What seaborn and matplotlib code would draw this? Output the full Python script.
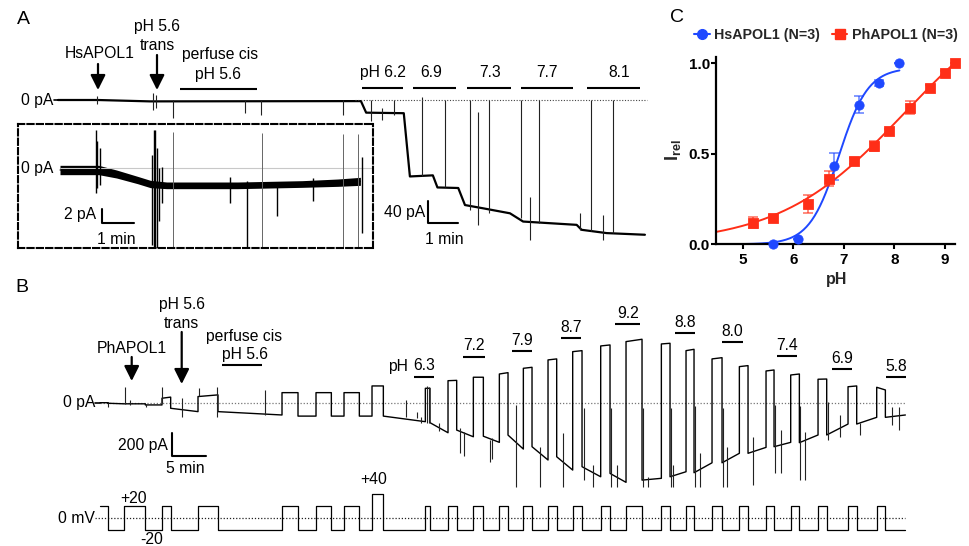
import numpy as np
import matplotlib
matplotlib.use("Agg")
import matplotlib.pyplot as plt
import seaborn as sns
from matplotlib.lines import Line2D

sns.set_style("white")
plt.rcParams["font.family"] = ["Liberation Sans", "DejaVu Sans"]
plt.rcParams["mathtext.fontset"] = "custom"
plt.rcParams["mathtext.rm"] = "Liberation Sans"
plt.rcParams["mathtext.bf"] = "Liberation Sans:bold"

# ======================= DATA =======================
# ---- Panel A : HsAPOL1 bilayer current (main trace), time in min, current in pA
a_time_min = [0, 1.3, 3.0, 9.9, 10.07, 11.3, 11.5, 12.25, 12.4, 13.08, 13.3, 13.9,
              14.77, 15.2, 16.95, 17.11, 17.93, 19.18]
a_current_pA = [0, 0, -2.5, -2, -23, -24, -139, -137, -159, -160, -191, -197,
                -206, -221, -227, -236, -242, -245]
a_spike_t = [1.27, 3.1, 3.2, 3.76, 6.11, 6.63, 9.31, 10.22, 10.58, 10.99, 11.88, 12.65,
             13.46, 13.74, 14.1, 15.12, 15.42, 15.72, 17.06, 17.41, 17.82, 18.13]
a_spike_lo = [-7, -18, -15, -33, -24, -27, -27, -39, -36, -27, -138, -158,
              -200, -227, -205, -215, -255, -224, -236, -239, -255, -242]
a_spike_hi = [7, 13, 10, 0, 0, 0, 0, 0, -15, 0, 6, 0,
              0, -21, 0, 0, -176, 0, -205, 0, -209, 0]
a_ph_labels = ["pH 6.2", "6.9", "7.3", "7.7", "8.1"]

# ---- Panel A inset (magnified first 10 min)
inset_time_min = [0, 1.2, 1.75, 2.4, 2.8, 3.3, 5.5, 7.5, 8.6, 9.3]
inset_current_pA = [-0.3, -0.3, -0.9, -1.8, -2.4, -2.6, -2.6, -2.4, -2.2, -2.0]
inset_noise_pA = [0.7, 0.7, 0.6, 0.55, 0.55, 0.5, 0.5, 0.5, 0.55, 0.6]
inset_spike_t = [1.1, 1.15, 1.25, 2.85, 2.9, 2.95, 3.0, 3.05, 3.15, 5.26, 5.78, 6.71, 7.84, 9.34]
inset_spike_lo = [-3.7, -3.0, -2.5, -11.5, -12, -12, -12, -8, -5.2, -5.3, -12, -7.2, -5, -9.8]
inset_spike_hi = [5.7, 4.0, 3.0, 2.0, 5.7, 5.7, 3.0, 0, 0.2, -1.3, -2, -2.5, -1.5, 1.7]
inset_thin_t = [3.51, 6.24, 8.77, 9.24]
inset_thin_lo = [-12, -12, -12, -12]
inset_thin_hi = [5.4, 5.2, 5.1, 5.1]

# ---- Panel B : PhAPOL1, voltage protocol and current
b_edges_min = [0, 1.2, 3.6, 6.8, 9.3, 10.6, 14.7, 17.7, 27.3, 29.7, 32.4, 34.7, 36.6,
               38.9, 40.8, 42.5, 48.8, 49.5, 52.2, 53.5, 56.0, 57.5, 59.9, 61.2, 63.5,
               64.8, 67.2, 68.5, 70.9, 72.3, 75.1, 76.5, 78.9, 81.3, 84.2, 85.5, 87.9,
               89.1, 91.8, 93.3, 95.9, 97.2, 99.9, 101.1, 103.6, 104.9, 107.7, 109.0,
               112.2, 113.5, 116.5, 117.8, 120.8]
b_voltage_mV = [20, -20, 20, -20, 20, -20, 20, -20, 20, -20, 20, -20, 20, -20, 40, -20] + [20, -20] * 18
b_current_start_pA = [0, -5, -10, -20, 40, -50, 55, -80, 90, -120, 90, -120, 90, -120, 150, -120,
                      129, -179, 197, -245, 228, -300, 257, -290, 308, -394, 383, -484, 457, -573,
                      508, -633, 547, -693, 526, -663, 466, -627, 392, -538, 323, -453, 284, -394,
                      248, -358, 210, -289, 143, -191, 138, -131]
b_current_end_pA = [0, -10, -10, -20, 50, -80, 70, -110, 90, -120, 90, -120, 90, -120, 150, -170,
                    129, -269, 200, -305, 228, -355, 269, -415, 317, -513, 392, -603, 466, -663,
                    517, -713, 568, -677, 532, -618, 478, -538, 403, -453, 332, -400, 293, -355,
                    257, -289, 212, -191, 150, -131, 114, -110]
b_spike_t = [1.25, 3.75, 4.5, 6.85, 9.35, 12.25, 14.9, 17.6, 24.8, 45.9, 47.5, 48.2, 49.0, 49.3,
             50.8, 54.0, 54.6, 58.5, 58.8, 62.4, 66.0, 69.5, 72.6, 73.9, 76.7, 77.5, 81.5, 82.2,
             85.7, 86.0, 89.3, 90.0, 93.5, 94.0, 97.9, 101.3, 102.2, 105.0, 105.8, 109.2, 111.0,
             114.0, 118.8, 119.9]
b_spike_lo = [-40, -12, -20, -35, -5, -131, 60, -125, -110, -125, -140, -180, -185, -180,
              -250, -453, -480, -529, -500, -753, -753, -753, -693, -753, -753, -753, -753, -753,
              -753, -753, -753, -753, -753, -753, -738, -633, -633, -693, -693, -334, -305,
              -289, -200, -245]
b_spike_hi = [0, 143, 24, -10, 143, 39, 129, 143, 114, 24, -80, -130, 150, 140,
              -180, -230, -260, -330, -320, -21, -394, -274, -50, -558, -50, -558, -50, -663,
              -50, -558, -32, -453, -50, -394, -309, -21, -244, -32, -259, 5, -110,
              -185, -36, -36]
b_ph_labels = ["7.2", "7.9", "8.7", "9.2", "8.8", "8.0", "7.4", "6.9", "5.8"]

# ---- Panel C : pH dependence of relative current
hs_ph = [5.6, 6.1, 6.8, 7.3, 7.7, 8.1]
hs_irel = [0.0, 0.03, 0.43, 0.77, 0.89, 1.0]
hs_sem = [0.0, 0.0, 0.075, 0.047, 0.018, 0.0]
ph_ph = [5.2, 5.6, 6.3, 6.7, 7.2, 7.6, 7.9, 8.3, 8.7, 9.0, 9.2]
ph_irel = [0.12, 0.147, 0.222, 0.363, 0.46, 0.541, 0.624, 0.754, 0.864, 0.947, 1.0]
ph_sem = [0.03, 0.015, 0.048, 0.04, 0.015, 0.027, 0.01, 0.035, 0.015, 0.01, 0.0]

# ======================= LAYOUT =======================
W, H = 969, 546
fig = plt.figure(figsize=(W / 100, H / 100), dpi=100)


def px_axes(x0, x1, y0, y1):
    return fig.add_axes([x0 / W, 1 - y1 / H, (x1 - x0) / W, (y1 - y0) / H])


def trace_line(ax, x, y, lw, color="black"):
    sns.lineplot(x=x, y=y, ax=ax, color=color, lw=lw, estimator=None, sort=False,
                 legend=False)


# ---------- Panel A main trace
A_X0, A_PXMIN, A_Y0, A_PXPA = 58, 30.6, 100, 0.55
axA = px_axes(0, 680, 55, 262)
trace_line(axA, a_time_min, a_current_pA, 1.6)
axA.vlines(a_spike_t, a_spike_lo, a_spike_hi, color="#222", lw=0.8)
axA.hlines(0, 9.7, 19.25, colors="#444", linestyles=(0, (1, 1.5)), lw=0.8)
sb_t, sb_i = (427.7 - A_X0) / A_PXMIN, (A_Y0 - 222.7) / A_PXPA
axA.plot([sb_t, sb_t, sb_t + 1], [sb_i + 40, sb_i, sb_i], color="k", lw=1.5)
axA.set_xlim((0 - A_X0) / A_PXMIN, (680 - A_X0) / A_PXMIN)
axA.set_ylim((A_Y0 - 262) / A_PXPA, (A_Y0 - 55) / A_PXPA)
axA.axis("off")

# ---------- Panel A inset
I_X0, I_PXMIN, I_Y0, I_PXPA = 60, 32.3, 168, 6.67
axI = px_axes(18, 373, 124, 248)
axI.hlines(0, 0, 9.7, colors="#c8c8c8", lw=0.8)
lo = np.array(inset_current_pA) - np.array(inset_noise_pA)
hi = np.array(inset_current_pA) + np.array(inset_noise_pA)
axI.fill_between(inset_time_min, lo, hi, color="black", lw=0)
trace_line(axI, inset_time_min, inset_current_pA, 0.8)
axI.vlines(inset_spike_t, inset_spike_lo, inset_spike_hi, color="black", lw=1.0)
axI.vlines(inset_thin_t, inset_thin_lo, inset_thin_hi, color="#666", lw=0.7)
sb_t, sb_i = (101.7 - I_X0) / I_PXMIN, (I_Y0 - 222.7) / I_PXPA
axI.plot([sb_t, sb_t, sb_t + 1], [sb_i + 2, sb_i, sb_i], color="k", lw=1.5)
axI.set_xlim((18 - I_X0) / I_PXMIN, (373 - I_X0) / I_PXMIN)
axI.set_ylim((I_Y0 - 248) / I_PXPA, (I_Y0 - 124) / I_PXPA)
axI.set_xticks([])
axI.set_yticks([])
for s in axI.spines.values():
    s.set_visible(True)
    s.set_linestyle((0, (3, 1.5)))
    s.set_linewidth(1.5)
    s.set_color("black")

# ---------- Panel B current
B_X0, B_PXMIN, B_Y0, B_PXPA = 100, 6.667, 402.7, 0.1117
axB = px_axes(60, 960, 285, 500)
bx, by = [], []
for i in range(len(b_voltage_mV)):
    bx += [b_edges_min[i], b_edges_min[i + 1]]
    by += [b_current_start_pA[i], b_current_end_pA[i]]
axB.hlines(0, 0, b_edges_min[-1], colors="#777", linestyles=(0, (1, 1.5)), lw=0.9)
trace_line(axB, bx, by, 1.0)
axB.vlines(b_spike_t, b_spike_lo, b_spike_hi, color="#222", lw=0.8)
sb_t, sb_i = (172.3 - B_X0) / B_PXMIN, (B_Y0 - 455.7) / B_PXPA
axB.plot([sb_t, sb_t, sb_t + 5], [sb_i + 200, sb_i, sb_i], color="k", lw=1.5)
axB.set_xlim((60 - B_X0) / B_PXMIN, (960 - B_X0) / B_PXMIN)
axB.set_ylim((B_Y0 - 500) / B_PXPA, (B_Y0 - 285) / B_PXPA)
axB.axis("off")

# ---------- Panel B voltage protocol
V_Y0, V_PXMV = 518.3, 0.6
axV = px_axes(60, 960, 470, 546)
axV.hlines(0, (95 - B_X0) / B_PXMIN, b_edges_min[-1], colors="#222",
           linestyles=(0, (1, 1.5)), lw=0.9)
sns.lineplot(x=b_edges_min, y=b_voltage_mV + [b_voltage_mV[-1]], ax=axV, color="black",
             lw=0.9, drawstyle="steps-post", estimator=None, sort=False, legend=False)
axV.set_xlim((60 - B_X0) / B_PXMIN, (960 - B_X0) / B_PXMIN)
axV.set_ylim((V_Y0 - 546) / V_PXMV, (V_Y0 - 470) / V_PXMV)
axV.axis("off")

# ---------- Panel C
blue, red = "#1f48ff", "#ff2e17"
axC = fig.add_axes([716 / W, 1 - 244.3 / H, (955 - 716) / W, (244.3 - 57.2) / H])


def fit_hill(x, y):
    x = np.asarray(x)[None, None, None, :]
    y = np.asarray(y)[None, None, None, :]
    p50 = np.linspace(5.5, 10.0, 91)[:, None, None, None]
    n = np.linspace(0.2, 3.0, 57)[None, :, None, None]
    top = np.linspace(0.9, 2.5, 65)[None, None, :, None]
    sse = ((top / (1 + 10 ** (n * (p50 - x))) - y) ** 2).sum(-1)
    i, j, k = np.unravel_index(sse.argmin(), sse.shape)
    return top.ravel()[k], p50.ravel()[i], n.ravel()[j]


XMIN, XMAX = 4.47, 9.2
for xs, ys, col, xend in [(hs_ph, hs_irel, blue, 8.1), (ph_ph, ph_irel, red, XMAX)]:
    top, p50, n = fit_hill(xs, ys)
    grid = np.linspace(XMIN, xend, 200)
    sns.lineplot(x=grid, y=top / (1 + 10 ** (n * (p50 - grid))), ax=axC, color=col, lw=1.4,
                 legend=False)

axC.errorbar(hs_ph, hs_irel, yerr=hs_sem, fmt="none", ecolor=blue, alpha=0.6,
             elinewidth=1.3, capsize=3.5, capthick=1.3, clip_on=False)
axC.errorbar(ph_ph, ph_irel, yerr=ph_sem, fmt="none", ecolor=red, alpha=0.6,
             elinewidth=1.3, capsize=3.5, capthick=1.3, clip_on=False)
sns.scatterplot(x=hs_ph, y=hs_irel, ax=axC, color=blue, marker="o", s=45, edgecolor=blue,
                zorder=4, clip_on=False, legend=False)
sns.scatterplot(x=ph_ph, y=ph_irel, ax=axC, color=red, marker="s", s=50, edgecolor=red,
                zorder=4, clip_on=False, legend=False)
axC.set_xlim(XMIN, XMAX)
axC.set_ylim(0, 1.033)
axC.set_xticks([5, 6, 7, 8, 9])
axC.set_yticks([0.0, 0.5, 1.0])
axC.set_yticklabels(["0.0", "0.5", "1.0"])
axC.tick_params(axis="both", labelsize=11, width=1.5, length=3.5, direction="out",
                bottom=True, left=True, colors="black")
axC.tick_params(axis="x", pad=3)
axC.tick_params(axis="y", pad=1)
for lab in axC.get_xticklabels() + axC.get_yticklabels():
    lab.set_fontweight("bold")
for side in ["top", "right"]:
    axC.spines[side].set_visible(False)
for side in ["left", "bottom"]:
    axC.spines[side].set_linewidth(1.6)
    axC.spines[side].set_color("black")
axC.set_facecolor("none")
axC.set_xlabel("pH", fontsize=11.5, fontweight="bold")
axC.xaxis.set_label_coords((836.7 - 716) / 239, (244.3 - 272) / 187.1)
axC.set_ylabel(r"$\mathbf{I_{rel}}$", fontsize=13)
axC.yaxis.set_label_coords((683 - 716) / 239, (244.3 - 150) / 187.1)
handles = [Line2D([0], [0], color=blue, marker="o", ms=7, lw=1.5),
           Line2D([0], [0], color=red, marker="s", ms=7, lw=1.5)]
fig.legend(handles, ["HsAPOL1 (N=3)", "PhAPOL1 (N=3)"], ncol=2, loc="center",
           bbox_to_anchor=(826 / W, 1 - 35 / H), frameon=False,
           prop={"weight": "bold", "size": 10.3}, handlelength=1.1, handletextpad=0.3,
           columnspacing=0.8, borderaxespad=0, borderpad=0)

# ---------- overlay for annotations (pixel coordinates)
axO = fig.add_axes([0, 0, 1, 1])
axO.set_xlim(0, W)
axO.set_ylim(H, 0)
axO.axis("off")
axO.patch.set_alpha(0)
axO.set_zorder(10)
FS = 11.3


def txt(x, y, s, ha="center", size=FS, **kw):
    axO.text(x, y, s, ha=ha, va="center", size=size, color="black", **kw)


def hbar(x0, x1, y):
    axO.plot([x0, x1], [y, y], color="black", lw=1.5, solid_capstyle="butt")


def arrow(x, y0, y1):
    axO.annotate("", xy=(x, y1), xytext=(x, y0),
                 arrowprops=dict(arrowstyle="-|>,head_length=0.9,head_width=0.45",
                                 color="black", lw=1.6, shrinkA=0, shrinkB=0))


# panel letters
txt(23, 20, "A", size=14)
txt(22, 287, "B", size=14)
txt(677, 17, "C", size=14)

# panel A annotations
txt(53, 100, "0 pA", ha="right")
axO.plot([54, 58], [100, 100], color="black", lw=1.2)
txt(53, 168, "0 pA", ha="right")
txt(100, 53, "HsAPOL1")
arrow(98, 64, 90)
txt(157, 27, "pH 5.6")
txt(157, 45, "trans")
arrow(157, 55, 90)
txt(220, 55, "perfuse cis")
txt(218, 74, "pH 5.6")
hbar(180, 257, 89)
a_lab_x = [383, 431, 490, 546.7, 619]
a_bar = [(361.7, 403.3), (413.3, 456), (467.3, 510.7), (520.7, 573.3), (587.3, 640)]
for lab, x, (b0, b1) in zip(a_ph_labels, a_lab_x, a_bar):
    txt(x, 72.5, lab)
    hbar(b0, b1, 88.3)
txt(96, 215, "2 pA", ha="right")
txt(116, 239, "1 min")
txt(425, 212, "40 pA", ha="right")
txt(444, 239.5, "1 min")

# panel B annotations
txt(95, 402.7, "0 pA", ha="right")
axO.plot([95, 100], [402.7, 402.7], color="black", lw=1.2)
txt(181.7, 305, "pH 5.6")
txt(181.7, 323, "trans")
arrow(181.7, 332, 384)
txt(131.7, 348.3, "PhAPOL1")
arrow(131.7, 357, 381)
txt(244, 336.7, "perfuse cis")
txt(245, 354.5, "pH 5.6")
hbar(222.3, 262.3, 365)
txt(398, 366, "pH")
txt(424.3, 366, "6.3")
hbar(414.3, 434.3, 376.7)
b_lab_x = [474, 522.3, 571, 627.7, 685, 732.3, 786.7, 841.7, 896]
b_lab_y = [346, 340.7, 327.3, 313.3, 322.7, 331.7, 345, 358.3, 366.7]
b_bar_half = [11, 10, 10, 12.8, 10, 10.5, 10, 10, 10]
for lab, x, y, hw in zip(b_ph_labels, b_lab_x, b_lab_y, b_bar_half):
    txt(x, y, lab)
    hbar(x - hw, x + hw, y + 10.5)
txt(168, 445.7, "200 pA", ha="right")
txt(185, 468.3, "5 min")
txt(95, 518.3, "0 mV", ha="right")
txt(133.3, 498.3, "+20")
txt(151.7, 539.3, "-20")
txt(373.3, 479, "+40")

fig.savefig("out.png", dpi=100)
